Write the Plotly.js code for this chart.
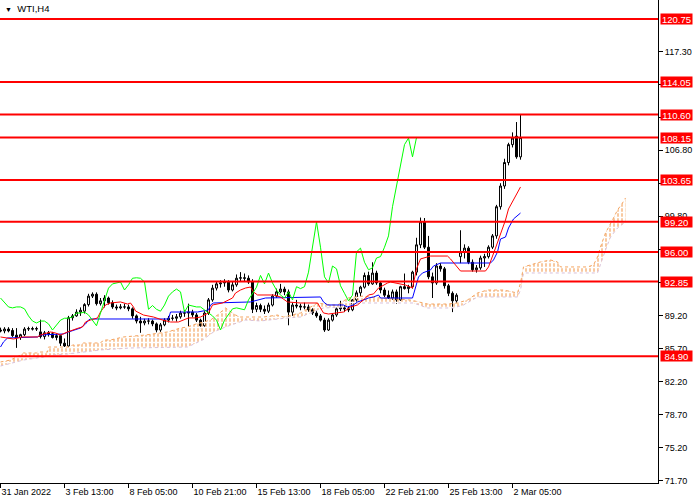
<!DOCTYPE html>
<html><head><meta charset="utf-8">
<script src="https://cdn.plot.ly/plotly-3.0.1.min.js"></script>
<style>html,body{margin:0;padding:0;background:#fff}#chart{width:700px;height:500px}</style>
</head><body><div id="chart"></div>
<script>
// ---- Candle data (WTI, H4) ----
const opens = [87.70,87.60,87.80,87.65,87.15,86.90,87.20,87.80,87.85,87.80, 87.50,87.00,87.40,87.30,86.90,87.10,86.30,86.00,89.00,89.20, 89.60,89.70,90.40,91.30,91.50,90.50,90.80,91.10,90.60,90.15, 90.05,90.15,90.15,89.95,89.20,88.65,88.45,88.65,88.65,88.35, 87.70,88.25,88.75,88.95,88.95,89.10,89.50,89.50,89.60,89.30, 88.75,88.15,89.50,90.90,92.15,92.60,92.70,92.80,91.95,92.50, 93.20,93.25,93.20,92.80,89.90,90.30,89.90,89.70,90.35,91.30, 91.75,92.05,91.75,89.60,90.35,90.25,90.15,90.15,89.85,89.50, 89.20,88.75,87.70,88.75,89.30,89.95,90.05,89.95,89.85,90.90, 91.65,92.25,93.50,92.60,93.75,92.70,91.95,91.40,91.10,91.75, 90.90,92.30,92.10,92.30,93.85,96.75,99.20,96.50,93.35,92.70, 94.50,94.20,92.40,91.60,90.80,95.50,96.00,96.40,94.90,94.10, 94.30,95.35,95.50,96.50,97.70,100.80,103.00,105.50,107.40,108.30, 106.10];
const highs = [87.95,88.00,88.00,87.90,87.90,87.30,88.00,88.05,88.05,88.05, 88.80,87.60,87.60,87.50,87.30,87.20,86.80,89.20,89.40,89.90, 90.10,90.55,91.55,91.70,91.70,91.10,91.40,91.25,90.85,90.40, 90.45,90.50,90.40,90.10,89.35,89.10,88.90,88.95,88.80,88.50, 88.45,88.95,89.20,89.30,89.40,89.75,89.80,90.50,89.85,89.50, 88.90,89.70,91.10,92.50,92.90,93.00,93.10,93.00,92.80,93.60, 93.85,93.70,93.50,93.10,90.60,90.50,90.30,90.60,91.50,92.10, 92.60,92.30,92.00,90.60,90.90,90.50,90.60,90.40,90.10,89.70, 89.40,89.00,88.95,89.50,90.10,90.80,90.30,90.20,91.00,91.90, 92.40,93.80,93.90,94.90,94.00,92.90,92.20,91.90,92.00,92.00, 92.40,93.70,92.50,94.00,97.50,99.65,99.60,97.70,93.80,94.80, 94.80,94.40,92.60,91.80,91.60,98.30,96.80,96.60,95.20,94.60, 95.60,95.80,96.70,97.90,101.00,103.30,105.90,107.60,108.70,109.80, 110.60];
const lows = [87.45,87.35,87.45,86.95,85.80,86.65,87.05,87.60,87.65,87.60, 86.80,86.70,87.00,86.80,86.60,86.00,85.85,85.90,88.70,89.10, 89.20,89.45,90.20,91.10,90.30,90.30,90.10,90.40,89.95,89.80, 89.90,89.95,89.70,88.90,88.40,87.40,88.20,88.30,88.10,87.45, 87.50,88.10,88.50,88.70,88.60,88.90,89.10,88.10,89.05,88.55, 87.90,88.00,89.30,90.70,91.90,92.20,92.30,91.70,91.80,92.30, 92.90,92.90,92.60,89.50,89.60,89.60,89.40,89.50,90.20,91.10, 91.60,91.40,88.20,89.20,90.00,89.80,89.90,89.60,89.30,89.00, 88.60,87.50,87.60,88.60,89.10,89.70,89.60,89.60,89.70,90.70, 91.30,92.10,92.40,92.50,92.50,91.60,91.20,91.00,90.90,90.50, 90.80,92.00,91.60,92.10,93.50,96.40,96.30,93.10,91.10,92.50, 93.90,92.10,91.30,89.60,90.60,94.80,95.30,94.70,93.90,93.80, 94.10,94.40,95.30,96.30,97.40,100.50,102.70,105.20,107.10,105.90, 105.80];
const closes = [87.60,87.80,87.60,87.10,86.90,87.20,87.80,87.85,87.80,87.85, 87.00,87.40,87.30,86.90,87.10,86.30,86.00,89.00,89.20,89.60, 89.80,90.40,91.30,91.50,90.50,90.80,91.10,90.60,90.15,90.05, 90.15,90.15,89.95,89.20,88.65,88.45,88.65,88.65,88.35,87.70, 88.25,88.75,88.95,88.95,89.10,89.50,89.50,89.60,89.30,88.75, 88.15,89.50,90.90,92.15,92.60,92.70,92.80,91.95,92.50,93.20, 93.25,93.20,92.80,89.90,90.30,89.90,89.70,90.35,91.30,91.75, 92.05,91.75,89.60,90.35,90.25,90.15,90.15,89.85,89.50,89.20, 88.75,87.70,88.75,89.30,89.95,90.05,89.95,89.85,90.90,91.65, 92.25,93.50,92.60,93.75,92.70,91.95,91.40,91.10,91.75,90.90, 92.30,92.10,92.30,93.85,96.75,99.20,96.50,93.35,92.70,94.50, 94.20,92.40,91.60,90.80,91.40,96.00,96.40,94.90,94.10,94.30, 95.35,95.50,96.50,97.70,100.80,103.00,105.50,107.40,108.10,106.10, 108.15];

// ---- Ichimoku lines (bar index, price) ----
const tenkanBar = [0,3.25,5.5,9.25,10,12.5,13.75,15,16.75,18,19.5,20.5,21.25,22.5,24.25,25,26.25,27.5,30,31.75,32.5,33.25,33.75,35.75,38.25,40.5,42.5,44.5,45.75,47,48.75,50,52,53,55.5,58,58.75,60,61.25,62.5,63.25,64.25,68.25,70,71.75,75,79.25,80,80.75,82,84.5,85.75,87.5,89.25,91.25,92,93.25,94.5,96.75,97.5,101.25,103,104,105,107.5,111.75,112.5,114.25,115,121.25,122,123.75,124.5,125.5,126.25,127,128.25,130];
const tenkanVal = [86.96,86.74,86.96,86.96,87.17,87.49,87.38,87.17,87.49,87.70,87.91,88.02,88.55,88.76,88.98,89.61,90.36,90.57,90.68,90.46,90.57,90.14,89.72,89.29,89.08,88.76,88.55,88.55,88.76,88.98,88.98,89.08,89.51,90.36,90.57,91.10,91.63,91.95,92.16,92.27,91.74,91.42,91.42,91.21,90.68,90.57,90.57,90.04,89.51,89.40,89.51,89.61,90.14,90.36,91.10,91.42,91.53,92.16,92.69,92.80,92.48,92.16,94.20,95.25,95.56,95.56,95.25,94.29,93.97,93.97,94.40,96.41,97.26,98.33,99.39,100.56,101.52,102.90];
const kijunBar = [0,0.75,1.75,9.25,10,15.75,17,20,21.25,22,22.5,42,42.5,49.25,52,52.5,53.25,58.75,62.5,66.25,80,80.75,81.75,85.75,86.75,88.25,89.25,90.75,92,93.25,94.5,95,103,104.5,105.5,107.5,108.25,110,122.5,123.25,124.25,125,126.25,127,128.25,130];
const kijunVal = [85.89,86.43,86.85,86.96,87.17,87.28,87.49,87.91,88.34,88.76,88.87,88.87,89.61,89.61,89.83,90.36,90.57,90.68,90.68,91.10,91.21,90.68,90.36,90.36,90.14,90.36,90.68,90.89,91.10,91.21,91.42,91.10,91.10,93.33,93.76,94.08,94.50,94.82,94.82,95.14,95.99,97.37,97.58,98.54,99.50,100.13];
const spanABar = [0,2.5,5,5.75,9,9.25,11.75,12,17.5,18,20,20.75,25,25.75,27.5,30.75,36.25,41.75,45,46.75,48,52.5,54.25,56.25,58.75,60,65.75,69.25,70.75,75,79.25,82.5,84.25,85.5,86.75,90.75,92.5,95,102.5,106.75,111.75,114.25,116.75,119.25,121.75,125.75,129.25,130,130.75,132.5,135,137.5,139.25,140,146.75,148.25,149.25,150,151.25,153,154.25,155.5,156.25];
const spanAVal = [84.30,84.51,85.04,85.26,85.26,85.36,85.36,85.89,85.89,86.11,86.11,86.32,86.32,86.64,86.64,86.96,87.17,87.49,87.91,88.02,88.23,88.76,89.29,90.04,89.29,89.08,89.08,89.29,89.08,89.51,90.57,90.36,90.36,90.68,91.10,91.31,91.21,91.10,90.89,90.46,90.46,90.57,90.89,91.63,91.95,91.95,91.63,92.69,94.40,94.61,94.93,95.14,94.93,94.40,94.40,94.61,95.46,96.52,98.01,99.39,100.45,101.20,101.73];
const spanBBar = [0,5.75,7.5,10.75,12.5,16.75,25,32.5,46.75,50.5,53.25,56.25,61.25,65,71.75,75,79.25,80.75,85.75,87.5,90,103.25,106.75,113.25,115.75,119.25,129.25,130,130.75,149.25,151.25,152.5,154.25,156.25];
const spanBVal = [83.87,84.51,84.62,84.83,85.04,85.15,85.58,85.79,85.89,86.64,87.49,88.02,88.76,88.66,88.98,89.08,89.83,90.04,90.14,90.36,90.57,90.57,90.04,90.04,90.36,91.21,91.21,91.95,93.76,93.76,96.20,97.58,98.54,99.18];
const chikouShift = 26;

// ---- Axis labels and levels ----
const tickBars = [0,16,32,48,64,80,96,112,128];
const tickLabels = ['31 Jan 2022','3 Feb 13:00','8 Feb 05:00','10 Feb 21:00','15 Feb 13:00','18 Feb 05:00','22 Feb 21:00','25 Feb 13:00','2 Mar 05:00'];
const priceTicks = [71.70,75.20,78.70,82.20,85.70,89.20,92.75,96.30,99.80,103.30,106.80,110.30,113.80,117.30];
const priceTickText = ['71.70','75.20','78.70','82.20','85.70','89.20','','','99.80','','106.80','','','117.30'];
const levels = [120.75,114.05,110.60,108.15,103.65,99.20,96.00,92.85,84.90];

const bars = closes.map((_, i) => i);
const chikouX = bars.slice(chikouShift).map(i => i - chikouShift);
const chikouY = closes.slice(chikouShift);

const traces = [
  // cloud hatch: vertical lines, broken into dashes by white horizontal stripes
  {type:'scatter', mode:'lines', x:spanBBar, y:spanBVal, line:{width:0, color:'rgba(0,0,0,0)'}, hoverinfo:'skip'},
  {type:'scatter', mode:'lines', x:spanABar, y:spanAVal, line:{width:0, color:'rgba(0,0,0,0)'},
   fill:'tonexty', fillcolor:'rgba(0,0,0,0)',
   fillpattern:{shape:'|', size:4, solidity:0.3, fgcolor:'#f4a460', bgcolor:'rgba(0,0,0,0)'}, hoverinfo:'skip'},
  {type:'scatter', mode:'lines', x:spanBBar, y:spanBVal, line:{width:0, color:'rgba(0,0,0,0)'}, hoverinfo:'skip'},
  {type:'scatter', mode:'lines', x:spanABar, y:spanAVal, line:{width:0, color:'rgba(0,0,0,0)'},
   fill:'tonexty', fillcolor:'rgba(0,0,0,0)',
   fillpattern:{shape:'-', size:5, solidity:0.3, fgcolor:'#ffffff', bgcolor:'rgba(0,0,0,0)'}, hoverinfo:'skip'},
  {type:'scatter', mode:'lines', x:spanBBar, y:spanBVal, line:{color:'#d8bfd8', width:1, dash:'dot'}, hoverinfo:'skip'},
  {type:'scatter', mode:'lines', x:spanABar, y:spanAVal, line:{color:'#f4a460', width:1, dash:'dot'}, hoverinfo:'skip'},
  {type:'candlestick', x:bars, open:opens, high:highs, low:lows, close:closes,
   increasing:{line:{color:'#000', width:1}, fillcolor:'#ffffff'},
   decreasing:{line:{color:'#000', width:1}, fillcolor:'#000000'},
   whiskerwidth:0, hoverinfo:'skip'},
  {type:'scatter', mode:'lines', x:kijunBar, y:kijunVal, line:{color:'#0000ff', width:1}, hoverinfo:'skip'},
  {type:'scatter', mode:'lines', x:tenkanBar, y:tenkanVal, line:{color:'#ff0000', width:1}, hoverinfo:'skip'},
  {type:'scatter', mode:'lines', x:chikouX, y:chikouY, line:{color:'#00ff00', width:1}, hoverinfo:'skip'}
];

const annotations = levels.map(v => ({
  xref:'paper', x:1, xanchor:'left', xshift:2, yref:'y', y:v, yanchor:'middle',
  text:v.toFixed(2), showarrow:false, bgcolor:'#ff0000', borderpad:0, width:31, height:10,
  font:{family:'Liberation Sans, Arial, sans-serif', size:9.5, color:'#ffffff'}
}));
annotations.push({
  xref:'paper', yref:'paper', x:0, y:1, xanchor:'left', yanchor:'top', xshift:3, yshift:-1,
  text:'<span style="font-size:7px">▼</span>  WTI,H4', showarrow:false,
  font:{family:'Liberation Sans, Arial, sans-serif', size:9.5, color:'#000'}
});

const layout = {
  width:700, height:500,
  margin:{l:0, r:42, t:0, b:17, pad:0},
  paper_bgcolor:'#ffffff', plot_bgcolor:'#ffffff',
  showlegend:false,
  font:{family:'Liberation Sans, Arial, sans-serif', size:9, color:'#000'},
  xaxis:{type:'linear', range:[-0.125,164.375], showgrid:false, zeroline:false,
         showline:true, linecolor:'#000', linewidth:1, ticks:'outside', ticklen:4, tickcolor:'#000',
         tickvals:tickBars, ticktext:tickLabels, ticklabelposition:'outside right',
         rangeslider:{visible:false}, fixedrange:true},
  yaxis:{range:[71.44,122.77], side:'right', showgrid:false, zeroline:false,
         showline:true, linecolor:'#000', linewidth:1, ticks:'outside', ticklen:4, tickcolor:'#000',
         tickvals:priceTicks, ticktext:priceTickText, fixedrange:true},
  shapes: levels.map(v => ({type:'line', xref:'paper', x0:0, x1:1, yref:'y', y0:v, y1:v,
                            line:{color:'#ff0000', width:2}})),
  annotations: annotations
};

Plotly.newPlot('chart', traces, layout, {staticPlot:true, displayModeBar:false});
</script>
</body></html>
